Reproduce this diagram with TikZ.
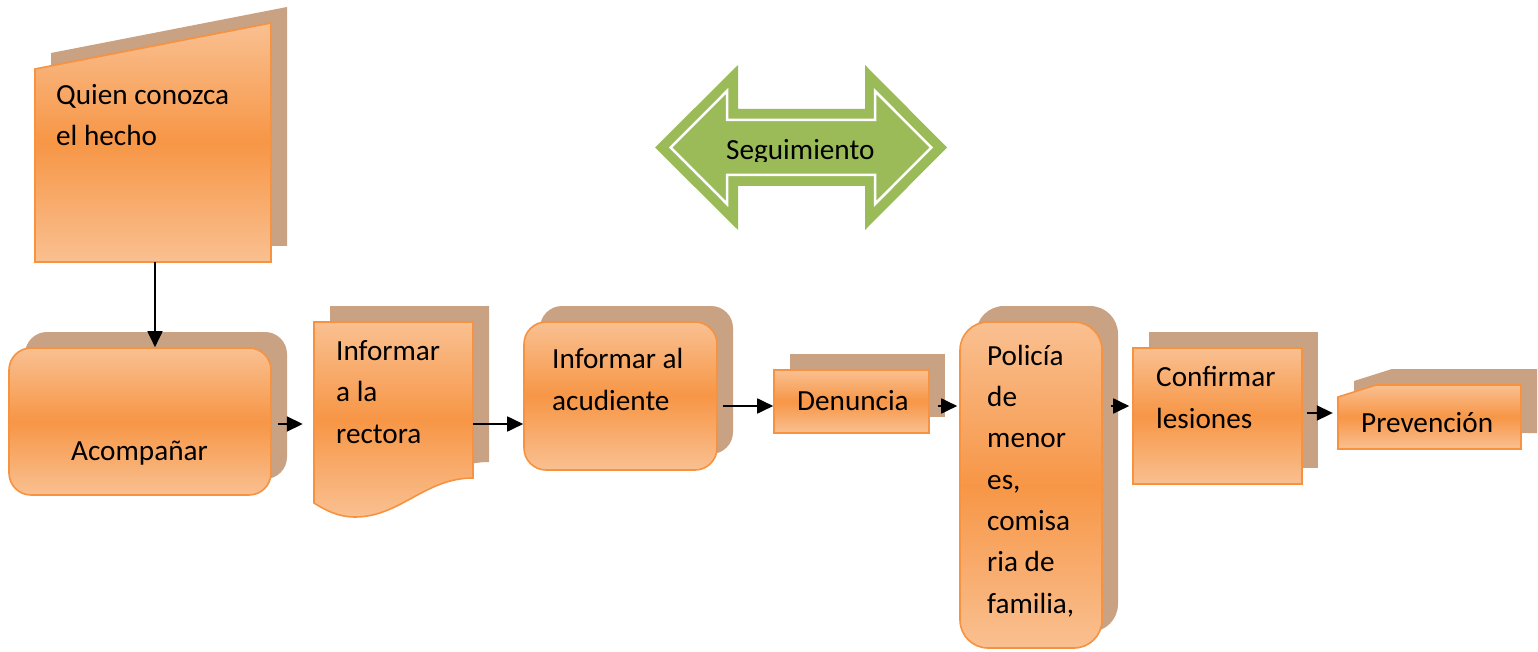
\documentclass[tikz,border=0pt]{standalone}
\usepackage{fontspec}
\setmainfont{Carlito}
\usetikzlibrary{arrows.meta,shadows}

\definecolor{olight}{RGB}{249,192,145}
\definecolor{omid}{RGB}{247,150,70}
\definecolor{oedge}{RGB}{246,146,64}
\definecolor{tanback}{RGB}{201,161,131}
\definecolor{leaf}{RGB}{155,187,89}

\tikzset{
  frontbox/.style={draw=oedge, line width=1.6pt, top color=olight, bottom color=olight, middle color=omid,
    copy shadow={shadow xshift=16pt, shadow yshift=16pt, fill=tanback, draw=none}},
  roundbox/.style={frontbox, rounded corners=22pt},
  hold/.style={inner sep=0pt},
  lbl/.style={anchor=base west, align=left, inner sep=0pt, font=\fontsize{29.2}{41.3}\selectfont},
  arr/.style={line width=1.8pt, -{Triangle[length=16pt,width=15pt]}}
}

\begin{document}
\begin{tikzpicture}[x=1pt,y=-1pt]
\useasboundingbox (0,0) rectangle (1538,652);

% Quien conozca el hecho
\draw[frontbox] (35,69) -- (271,23) -- (271,262) -- (35,262) -- cycle;
\node[hold, minimum width=236pt, minimum height=239pt] (quien) at (155,142.5) {};
\node[lbl] (t-quien) at (56,146) {Quien conozca\\el hecho};

% Acompañar
\node[roundbox, minimum width=262pt, minimum height=147pt] (acomp) at (140,421.5) {};
\node[lbl] (t-acomp) at (71,460) {Acompañar};

% Informar a la rectora
\draw[frontbox] (314,322) -- (473,322) -- (473,478)
  .. controls (425,478) and (400,517) .. (355,517)
  .. controls (338,517) and (325,510) .. (314,503) -- cycle;
\node[hold, minimum width=159pt, minimum height=195pt] (rectora) at (393.5,419.5) {};
\node[lbl] (t-rectora) at (336,443) {Informar\\a la\\rectora};

% Informar al acudiente
\node[roundbox, minimum width=193pt, minimum height=148pt] (acud) at (620.5,396) {};
\node[lbl] (t-acud) at (552,410) {Informar al\\acudiente};

% Denuncia
\node[frontbox, minimum width=155pt, minimum height=63pt] (den) at (851.5,401.5) {};
\node[lbl] (t-den) at (797,410) {Denuncia};

% Policia
\node[frontbox, rounded corners=28pt, minimum width=142pt, minimum height=326pt] (pol) at (1031,485) {};
\node[lbl] (t-pol) at (987,613) {Policía\\de\\menor\\es,\\comisa\\ria de\\familia,};

% Confirmar lesiones
\node[frontbox, minimum width=169pt, minimum height=136pt] (conf) at (1217.5,416) {};
\node[lbl] (t-conf) at (1156,428) {Confirmar\\lesiones};

% Prevencion
\draw[frontbox] (1338,397) -- (1376,385) -- (1521,385) -- (1521,449) -- (1338,449) -- cycle;
\node[hold, minimum width=183pt, minimum height=64pt] (prev) at (1429.5,417) {};
\node[lbl] (t-prev) at (1361,432) {Prevención};

% Seguimiento
\fill[leaf] (655,147.5) -- (738,65) -- (738,109) -- (865,109) -- (865,65) -- (947,147.5)
  -- (865,230) -- (865,186) -- (738,186) -- (738,230) -- cycle;
\draw[white, line width=2.5pt] (670.6,147.5) -- (727,91) -- (727,120) -- (875,120) -- (875,91)
  -- (931.4,147.5) -- (875,204) -- (875,175) -- (727,175) -- (727,204) -- cycle;
\begin{scope}
\clip (700,100) rectangle (900,162);
\node[lbl] (seg) at (726,160) {Seguimiento};
\end{scope}

% flechas
\coordinate (rowa) at (0,424);
\coordinate (rowb) at (0,406);
\coordinate (rowc) at (0,413);
\draw[arr] (quien.south) -- (quien.south |- acomp.north);
\draw[arr, shorten <=6pt, shorten >=11pt] (acomp.east |- rowa) -- (rectora.west |- rowa);
\draw[arr] (rectora.east |- rowa) -- (acud.west |- rowa);
\draw[arr, shorten <=5pt] (acud.east |- rowb) -- (den.west |- rowb);
\draw[arr, shorten <=8pt, shorten >=2pt] (den.east |- rowb) -- (pol.west |- rowb);
\draw[arr, shorten <=8pt, shorten >=3pt] (pol.east |- rowb) -- (conf.west |- rowb);
\draw[arr, shorten <=4pt, shorten >=5pt] (conf.east |- rowc) -- (prev.west |- rowc);
\end{tikzpicture}
\end{document}
